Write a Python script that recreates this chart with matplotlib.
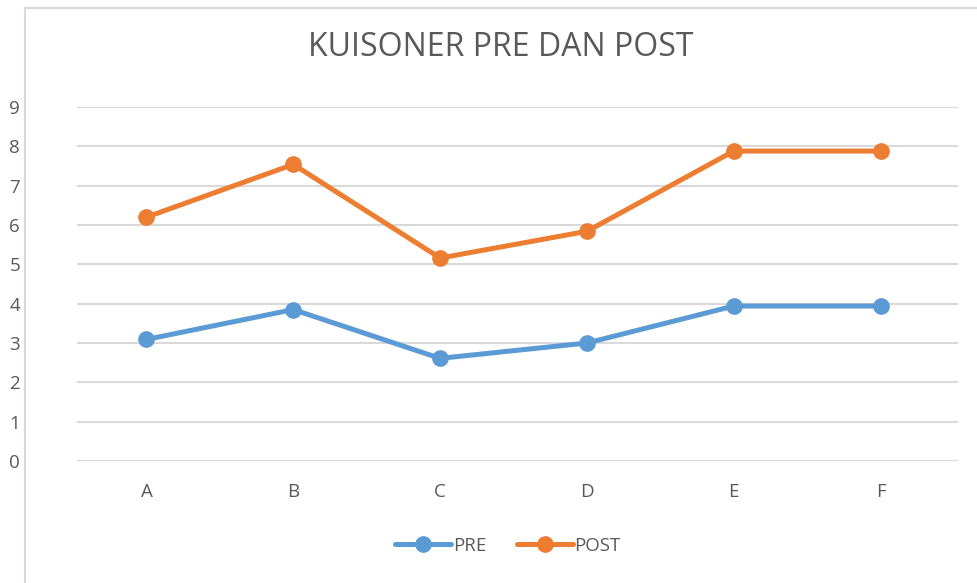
import matplotlib.pyplot as plt
from matplotlib.lines import Line2D

# ── Data ──
categories = ['A', 'B', 'C', 'D', 'E', 'F']
pre = [3.09, 3.85, 2.61, 3.00, 3.94, 3.94]
post = [6.20, 7.54, 5.16, 5.84, 7.88, 7.88]

# ── Style ──
BLUE = '#5B9BD5'
ORANGE = '#ED7D31'
TEXT = '#595959'
GRID = '#D9D9D9'
plt.rcParams['font.family'] = ['Open Sans', 'DejaVu Sans']

fig = plt.figure(figsize=(9.77, 5.83), dpi=100)
W, H = 977, 583
ax = fig.add_axes([77 / W, (H - 461) / H, (958 - 77) / W, (461 - 107) / H])

x = range(len(categories))
ax.plot(x, pre, color=BLUE, lw=3.6, marker='o', ms=11, label='PRE', solid_capstyle='round')
ax.plot(x, post, color=ORANGE, lw=3.6, marker='o', ms=11, label='POST', solid_capstyle='round')

ax.set_xlim(-0.473, len(categories) - 0.473)
ax.set_ylim(0, 9)
ax.set_yticks(range(10))
ax.set_xticks(list(x))
ax.set_xticklabels(categories)
ax.yaxis.grid(True, color=GRID, lw=1.5)
ax.set_axisbelow(True)
for s in ax.spines.values():
    s.set_visible(False)
ax.tick_params(axis='both', length=0, labelsize=13.5, labelcolor=TEXT)
ax.tick_params(axis='y', pad=41)
ax.tick_params(axis='x', pad=16)

fig.text(501 / W, 1 - 48 / H, 'KUISONER PRE DAN POST', ha='center', va='center',
         fontsize=23, color=TEXT)

leg = fig.legend(loc='center', bbox_to_anchor=(508 / W, 1 - 546 / H), ncol=2,
                 frameon=False, fontsize=13.5, handlelength=3.0, handletextpad=0.1,
                 columnspacing=1.6)
for t in leg.get_texts():
    t.set_color(TEXT)

# chart-area border (cropped at right and bottom)
fig.add_artist(Line2D([25 / W, 25 / W], [0, 1 - 8 / H], color='#D9D9D9', lw=1.5))
fig.add_artist(Line2D([25 / W, 1], [1 - 8 / H, 1 - 8 / H], color='#D9D9D9', lw=1.5))

fig.savefig('out.png', dpi=100)
